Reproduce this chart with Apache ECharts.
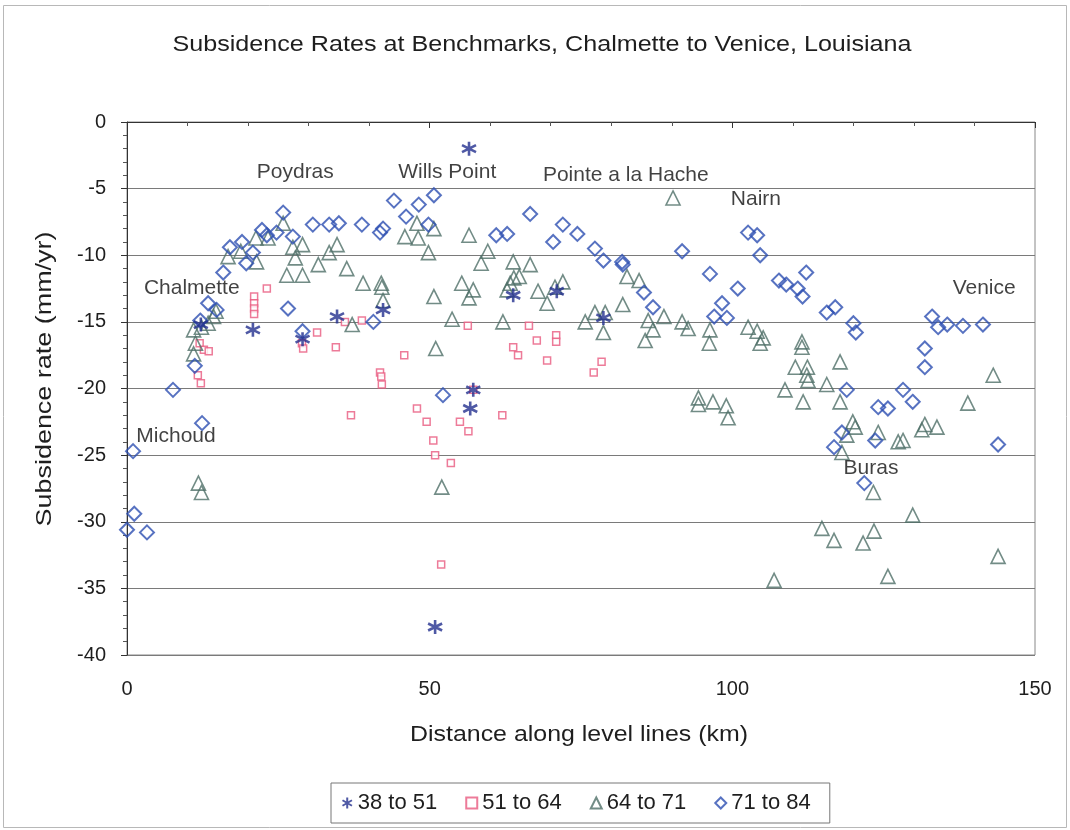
<!DOCTYPE html>
<html>
<head>
<meta charset="utf-8">
<script src="https://cdn.jsdelivr.net/npm/echarts@6/dist/echarts.min.js"></script>
<style>
  html, body { margin: 0; padding: 0; background: #ffffff; }
  #chart { width: 1070px; height: 830px; }
</style>
</head>
<body>
<div id="chart"></div>
<script>
// Benchmark subsidence rates [distance km, rate mm/yr], grouped by survey epoch
const epoch38to51 = [
  [56.5, -2.0], [20.8, -15.6], [34.7, -14.6], [42.3, -14.1], [29.0, -16.3],
  [50.9, -37.9], [56.7, -21.5], [57.2, -20.1], [63.8, -13.0], [71.0, -12.7],
  [78.7, -14.7], [12.2, -15.2]
];
const epoch51to64 = [
  [23.1, -12.5], [21.0, -13.1], [21.0, -13.6], [21.0, -14.0], [21.0, -14.4],
  [12.0, -16.6], [12.7, -17.1], [13.5, -17.2], [11.7, -19.0], [12.2, -19.6],
  [28.9, -16.6], [29.1, -17.0], [31.4, -15.8], [34.5, -16.9], [36.0, -15.0],
  [38.8, -14.9], [41.8, -18.8], [42.0, -19.1], [42.1, -19.7], [45.8, -17.5],
  [56.3, -15.3], [37.0, -22.0], [47.9, -21.5], [49.5, -22.5], [55.0, -22.5],
  [56.4, -23.2], [50.6, -23.9], [50.9, -25.0], [53.5, -25.6], [51.9, -33.2],
  [62.0, -22.0], [66.4, -15.3], [63.8, -16.9], [64.6, -17.5], [67.7, -16.4],
  [69.4, -17.9], [70.9, -16.0], [70.9, -16.5], [78.4, -18.0], [77.1, -18.8],
  [57.2, -20.1]
];
const epoch64to71 = [
  [16.7, -10.1], [18.8, -9.7], [21.3, -8.7], [21.4, -10.5], [23.3, -8.7],
  [25.8, -7.6], [27.4, -9.4], [27.8, -10.2], [29.0, -9.2], [26.4, -11.5],
  [29.0, -11.5], [11.0, -15.6], [12.3, -15.4], [13.4, -15.1], [14.3, -14.6],
  [14.7, -14.2], [11.0, -17.4], [11.3, -16.6], [11.8, -27.1], [12.3, -27.8],
  [31.6, -10.7], [33.4, -9.8], [34.7, -9.2], [36.3, -11.0], [39.0, -12.1],
  [42.0, -12.1], [42.1, -12.4], [42.3, -13.4], [37.2, -15.2], [45.9, -8.6],
  [47.9, -7.6], [48.1, -8.7], [50.7, -8.0], [49.8, -9.8], [50.7, -13.1],
  [51.0, -17.0], [53.7, -14.8], [56.5, -8.5], [55.3, -12.1], [57.2, -12.6],
  [56.5, -13.2], [59.6, -9.7], [58.5, -10.6], [52.0, -27.4], [63.8, -10.5],
  [66.6, -10.7], [63.9, -11.7], [64.8, -11.6], [63.3, -12.1], [62.8, -12.6],
  [67.9, -12.7], [69.4, -13.6], [70.7, -12.4], [72.0, -12.0], [62.1, -15.0],
  [75.7, -15.0], [77.3, -14.3], [79.0, -14.3], [78.7, -15.8], [81.9, -13.7],
  [82.6, -11.6], [84.6, -11.9], [86.1, -14.9], [86.9, -15.6], [85.6, -16.4],
  [88.7, -14.6], [90.2, -5.7], [91.7, -15.0], [92.7, -15.5], [96.3, -15.6],
  [96.2, -16.6], [102.6, -15.4], [104.1, -15.7], [105.1, -16.2], [104.6, -16.6],
  [111.5, -16.5], [111.5, -16.9], [110.4, -18.4], [112.4, -18.4], [112.3, -19.0],
  [112.5, -19.4], [117.8, -18.0], [115.6, -19.7], [108.7, -20.1], [94.4, -20.7],
  [94.4, -21.2], [96.8, -21.0], [99.0, -21.3], [99.3, -22.2], [111.7, -21.0],
  [117.8, -21.0], [119.9, -22.5], [120.3, -22.9], [118.9, -23.5], [118.1, -24.8],
  [123.3, -27.8], [114.8, -30.5], [116.8, -31.4], [121.6, -31.6], [123.4, -30.7],
  [106.9, -34.4], [124.1, -23.3], [127.4, -24.0], [128.2, -23.9], [131.3, -23.1],
  [131.8, -22.7], [133.8, -22.9], [138.9, -21.1], [129.8, -29.5], [125.7, -34.1],
  [143.9, -32.6], [143.1, -19.0]
];
const epoch71to84 = [
  [7.6, -20.1], [11.2, -18.3], [12.1, -14.9], [13.4, -13.6], [14.8, -14.1],
  [15.9, -11.3], [17.0, -9.4], [19.0, -9.0], [19.7, -10.6], [20.8, -9.8],
  [22.3, -8.1], [23.1, -8.5], [24.7, -8.3], [25.8, -6.8], [27.4, -8.6],
  [26.6, -14.0], [29.0, -15.7], [12.4, -22.6], [1.0, -24.7], [1.2, -29.4],
  [0.0, -30.6], [3.3, -30.8], [30.7, -7.7], [33.4, -7.7], [35.0, -7.6],
  [38.8, -7.7], [41.8, -8.3], [42.3, -8.0], [44.1, -5.9], [46.1, -7.1],
  [48.2, -6.2], [50.7, -5.5], [49.8, -7.7], [40.7, -15.0], [61.0, -8.5],
  [52.2, -20.5], [62.8, -8.4], [66.6, -6.9], [70.4, -9.0], [72.0, -7.7],
  [74.4, -8.4], [77.3, -9.5], [78.7, -10.4], [81.8, -10.5], [81.9, -10.7],
  [85.4, -12.8], [86.9, -13.9], [91.7, -9.7], [96.3, -11.4], [98.3, -13.6],
  [97.0, -14.6], [99.1, -14.7], [100.9, -12.5], [102.6, -8.3], [104.1, -8.5],
  [104.6, -10.0], [107.7, -11.9], [108.9, -12.2], [110.8, -12.5], [111.6, -13.1],
  [112.2, -11.3], [115.6, -14.3], [117.0, -13.9], [120.0, -15.1], [120.4, -15.8],
  [118.9, -20.1], [118.1, -23.3], [116.8, -24.4], [121.8, -27.1], [123.6, -23.9],
  [128.2, -20.1], [129.8, -21.0], [124.1, -21.4], [125.7, -21.5], [143.9, -24.2],
  [133.0, -14.6], [134.0, -15.4], [135.5, -15.2], [138.1, -15.3], [141.4, -15.2],
  [131.8, -17.0], [131.8, -18.4]
];

// Place names along the level line, anchored at [km, mm/yr]
const placeNames = ['Michoud', 'Chalmette', 'Poydras', 'Wills Point', 'Pointe a la Hache', 'Nairn', 'Venice', 'Buras'];
const placeAnchors = [[8.1, -23.6], [10.7, -12.5], [27.8, -3.8], [52.9, -3.8], [82.4, -4.0], [103.9, -5.8], [141.6, -12.5], [122.9, -26.0]];

const seriesNames = ['38 to 51', '51 to 64', '64 to 71', '71 to 84'];
const yTicks = [0, -5, -10, -15, -20, -25, -30, -35, -40];
const xTicks = [0, 50, 100, 150];

const titleText = 'Subsidence Rates at Benchmarks, Chalmette to Venice, Louisiana';
const xAxisTitle = 'Distance along level lines (km)';
const yAxisTitle = 'Subsidence rate (mm/yr)';

const FONT = '"Liberation Sans", Arial, sans-serif';
const asteriskPath = 'path://M5,0L5,10M0.7,2.5L9.3,7.5M0.7,7.5L9.3,2.5';

// Wide-set text: stretch a string horizontally so it spans the given width
const measureCtx = document.createElement('canvas').getContext('2d');
function wideText(text, size, cx, cy, spanWidth, rotation) {
  measureCtx.font = size + 'px ' + FONT;
  const w = measureCtx.measureText(text).width;
  return {
    type: 'text',
    x: cx, y: cy,
    rotation: rotation || 0,
    scaleX: spanWidth / w,
    silent: true,
    style: {
      text: text,
      font: size + 'px ' + FONT,
      fill: '#1e1e1e',
      align: 'center',
      verticalAlign: 'middle'
    }
  };
}

const chart = echarts.init(document.getElementById('chart'), null, { renderer: 'canvas' });

const option = {
  backgroundColor: '#ffffff',
  animation: false,
  graphic: [
    {
      type: 'rect',
      shape: { x: 3.5, y: 5.5, width: 1063, height: 822 },
      style: { fill: 'none', stroke: '#b8b8b8', lineWidth: 1 },
      silent: true, z: -1
    },
    wideText(titleText, 22, 542, 45, 739, 0),
    wideText(xAxisTitle, 22, 579, 735, 338, 0),
    wideText(yAxisTitle, 22, 45, 379, 295, Math.PI / 2)
  ],
  grid: { left: 127, right: 35, top: 122, bottom: 175, show: true, borderColor: '#888', borderWidth: 1 },
  legend: {
    data: seriesNames,
    left: 331,
    top: 783,
    orient: 'horizontal',
    itemWidth: 11,
    itemHeight: 11,
    itemGap: 28,
    padding: [9, 19, 9, 9],
    borderColor: '#777',
    borderWidth: 1,
    textStyle: { fontFamily: FONT, fontSize: 22, color: '#1e1e1e' }
  },
  xAxis: {
    type: 'value',
    min: 0, max: 150, interval: 50,
    axisLine: { show: true, lineStyle: { color: '#333', width: 1 } },
    axisTick: { show: true, inside: false, length: 6, lineStyle: { color: '#333' } },
    minorTick: { show: true, splitNumber: 5, length: 4, lineStyle: { color: '#555' } },
    axisLabel: {
      fontFamily: FONT, fontSize: 20, color: '#1e1e1e', margin: 24,
      formatter: v => (xTicks.indexOf(v) >= 0 ? String(v) : '')
    },
    splitLine: { show: false }
  },
  yAxis: {
    type: 'value',
    min: -40, max: 0, interval: 5,
    axisLine: { show: true, lineStyle: { color: '#333', width: 1 } },
    axisTick: { show: true, inside: false, length: 6, lineStyle: { color: '#333' } },
    minorTick: { show: true, splitNumber: 5, length: 4, lineStyle: { color: '#555' } },
    axisLabel: {
      fontFamily: FONT, fontSize: 20, color: '#1e1e1e', margin: 21,
      formatter: v => (yTicks.indexOf(v) >= 0 ? String(v) : '')
    },
    splitLine: { show: true, lineStyle: { color: '#7a7a7a', width: 1 } }
  },
  series: [
    {
      name: seriesNames[0], type: 'scatter', data: epoch38to51,
      symbol: asteriskPath, symbolSize: 14, z: 5,
      itemStyle: { color: 'none', borderColor: '#23308f', borderWidth: 2.6 }
    },
    {
      name: seriesNames[1], type: 'scatter', data: epoch51to64,
      symbol: 'rect', symbolSize: 7, z: 2,
      itemStyle: { color: '#ffffff', borderColor: '#e85a80', borderWidth: 1.5 }
    },
    {
      name: seriesNames[2], type: 'scatter', data: epoch64to71,
      symbol: 'triangle', symbolSize: 14, z: 3,
      itemStyle: { color: 'rgba(255,255,255,0)', borderColor: '#4f6f68', borderWidth: 1.6 }
    },
    {
      name: seriesNames[3], type: 'scatter', data: epoch71to84,
      symbol: 'diamond', symbolSize: 14, z: 4,
      itemStyle: { color: 'rgba(255,255,255,0)', borderColor: '#2d4fb2', borderWidth: 2 }
    },
    {
      name: 'places', type: 'scatter', silent: true, z: 6,
      symbolSize: 0,
      data: placeAnchors.map((p, i) => ({ value: p, name: placeNames[i] })),
      label: {
        show: true, position: 'inside', formatter: '{b}',
        fontFamily: FONT, fontSize: 21, color: '#111111',
        textBorderWidth: 0
      }
    }
  ]
};

chart.setOption(option);
</script>
</body>
</html>
